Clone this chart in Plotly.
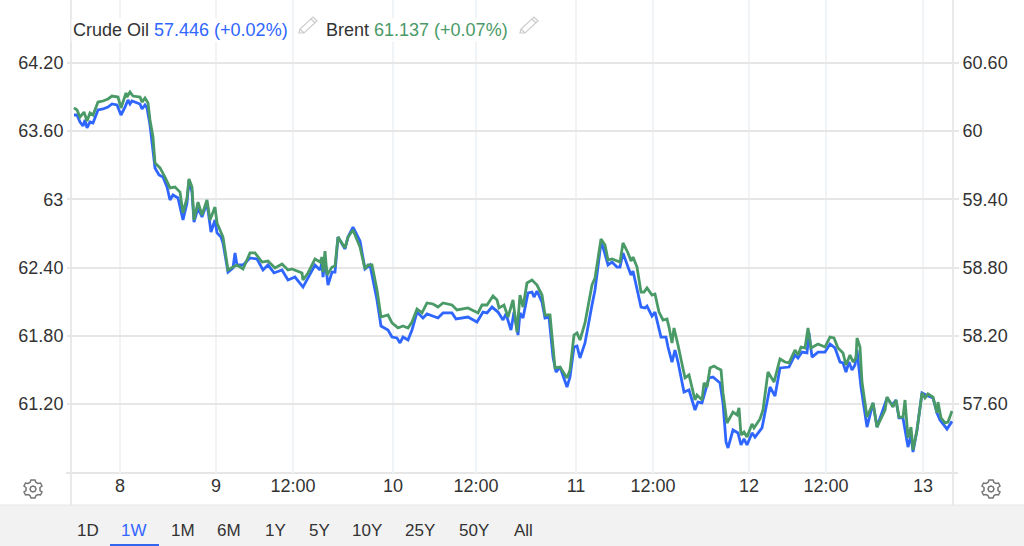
import plotly.graph_objects as go

# Position along the ordinal (gap-free) trading time axis
brent_bar = [3,6,9,13,16,19,22,27,32,37,41,47,50,55,56,59,62,69,71,74,77,79,82,84,89,94,99,104,109,112,116,118,121,123,127,131,136,139,144,146,152,157,162,166,172,179,184,191,197,204,211,217,221,231,232,237,244,249,251,252,254,256,261,264,267,274,277,282,289,294,297,301,306,310,317,321,327,332,337,341,346,351,356,362,367,372,381,386,397,407,411,416,422,426,428,433,437,442,446,449,452,456,461,466,471,474,479,482,484,489,496,499,503,506,509,514,517,521,524,530,534,537,541,546,549,552,557,560,562,566,570,573,576,581,584,588,592,596,598,601,603,607,614,618,624,626,631,633,636,639,643,646,650,652,656,662,666,668,670,673,676,681,683,689,692,697,703,709,714,718,724,727,730,734,737,740,747,754,759,763,767,772,775,779,782,785,786,789,791,796,798,802,806,811,814,816,820,822,825,828,832,834,837,840,842,846,851,854,857,862,866,867,870,874,877,881]
brent_price = [63.804,63.786,63.724,63.768,63.689,63.760,63.742,63.856,63.865,63.883,63.909,63.900,63.804,63.936,63.900,63.944,63.909,63.900,63.856,63.892,63.848,63.698,63.548,63.320,63.276,63.196,63.100,63.108,63.064,62.880,63.012,63.179,63.108,62.818,62.976,62.862,62.994,62.818,62.932,62.792,62.668,62.378,62.404,62.422,62.387,62.528,62.528,62.448,62.457,62.396,62.431,62.378,62.387,62.352,62.290,62.352,62.475,62.448,62.492,62.360,62.545,62.334,62.404,62.413,62.668,62.572,62.668,62.730,62.580,62.387,62.422,62.422,62.202,61.964,61.982,61.912,61.868,61.885,61.868,61.920,62.035,62.000,62.088,62.079,62.052,62.088,62.070,62.026,62.044,62.000,62.070,62.070,62.149,62.114,62.044,62.070,61.964,62.114,61.832,62.158,62.052,62.264,62.290,62.246,62.158,61.982,61.982,61.656,61.516,61.524,61.428,61.498,61.806,61.824,61.762,61.912,62.070,62.246,62.308,62.651,62.598,62.466,62.475,62.457,62.448,62.616,62.528,62.457,62.492,62.404,62.184,62.184,62.220,62.158,62.167,62.008,61.938,61.947,61.876,61.736,61.868,61.718,61.428,61.454,61.234,61.278,61.234,61.384,61.348,61.516,61.533,61.516,61.498,61.296,61.032,61.128,61.102,61.164,60.926,60.952,60.908,61.023,60.988,61.067,61.146,61.480,61.392,61.595,61.568,61.560,61.674,61.630,61.700,61.692,61.868,61.692,61.727,61.700,61.788,61.780,61.692,61.648,61.542,61.630,61.568,61.604,61.780,61.700,61.392,61.084,61.128,61.208,60.996,61.084,61.146,61.260,61.208,61.172,61.234,61.084,61.084,61.234,60.900,60.996,60.794,60.970,61.296,61.252,61.287,61.260,61.120,61.216,61.076,61.032,61.040,61.137]

crude_bar = [3,6,9,12,14,16,19,22,27,32,37,41,46,50,54,57,59,61,69,71,74,76,79,81,84,88,92,96,99,102,107,112,116,118,121,123,127,131,136,140,144,146,150,152,157,162,164,166,172,179,186,192,197,203,211,217,224,232,236,244,249,251,252,254,257,261,264,267,274,277,282,289,294,299,306,310,317,321,326,329,332,337,341,346,352,356,367,372,381,385,397,406,412,416,421,427,432,435,440,443,447,449,452,457,461,463,466,471,474,478,482,485,489,496,499,503,506,509,514,517,521,524,530,532,537,541,546,549,552,557,560,562,566,570,574,576,581,584,590,595,597,601,604,607,613,618,624,627,631,634,638,642,649,652,655,657,662,667,670,673,676,681,684,691,694,699,704,709,718,724,727,731,736,738,741,747,754,759,764,769,772,775,778,781,784,786,790,796,802,806,816,821,825,828,832,835,837,840,842,846,851,857,862,866,869,876,881]
crude_price = [60.142,60.142,60.080,60.045,60.098,60.028,60.080,60.072,60.186,60.195,60.212,60.239,60.230,60.142,60.212,60.274,60.239,60.265,60.239,60.195,60.230,60.204,60.054,59.904,59.676,59.614,59.596,59.508,59.394,59.438,59.412,59.218,59.368,59.570,59.464,59.200,59.324,59.244,59.368,59.112,59.218,59.104,59.068,59.016,58.760,58.796,58.928,58.822,58.822,58.884,58.875,58.778,58.822,58.752,58.778,58.690,58.716,58.628,58.690,58.822,58.778,58.848,58.716,58.866,58.646,58.760,58.760,59.068,58.963,59.068,59.156,59.033,58.787,58.822,58.514,58.285,58.250,58.188,58.180,58.136,58.188,58.162,58.250,58.408,58.356,58.391,58.356,58.400,58.400,58.347,58.364,58.320,58.408,58.400,58.452,58.408,58.338,58.391,58.250,58.408,58.206,58.400,58.356,58.576,58.584,58.540,58.593,58.496,58.356,58.364,58.012,57.880,57.924,57.748,57.836,58.100,58.109,58.004,58.136,58.294,58.470,58.602,59.016,58.980,58.822,58.848,58.804,58.804,58.928,58.804,58.734,58.769,58.602,58.452,58.444,58.461,58.373,58.408,58.188,58.188,58.100,57.968,58.074,57.968,57.704,57.722,57.546,57.616,57.608,57.696,57.828,57.836,57.784,57.608,57.264,57.212,57.370,57.344,57.238,57.291,57.238,57.344,57.308,57.388,57.520,57.748,57.669,57.916,57.924,58.030,58.004,58.056,58.048,58.224,58.012,58.056,58.056,58.127,58.092,57.968,57.960,57.880,57.968,57.898,57.942,58.074,57.748,57.396,57.608,57.396,57.652,57.590,57.634,57.476,57.476,57.326,57.220,57.326,57.176,57.370,57.696,57.669,57.652,57.520,57.458,57.379,57.446]

assert len(brent_bar) == len(brent_price), (len(brent_bar), len(brent_price))
assert len(crude_bar) == len(crude_price), (len(crude_bar), len(crude_price))

x_tick_bars = [49,145,222,322,405,505,582,678,755,852]
x_tick_labels = ["8","9","12:00","10","12:00","11","12:00","12","12:00","13"]
brent_ticks = [64.2,63.6,63.0,62.4,61.8,61.2]
brent_tick_labels = ["64.20","63.60","63","62.40","61.80","61.20"]
crude_ticks = [60.6,60.0,59.4,58.8,58.2,57.6]
crude_tick_labels = ["60.60","60","59.40","58.80","58.20","57.60"]
ranges = ["1D","1W","1M","6M","1Y","5Y","10Y","25Y","50Y","All"]
range_x = [88,134,183,229,275,319,367,420,474,523]

BLUE = "#2f66ff"
GREEN = "#4a9a68"
FONT = "Liberation Sans"
INK = "#333333"
W, H, L, R, B = 1024, 546, 71, 953, 473


def px(x):
    return (x - L) / (R - L)


def py(y):
    return (B - y) / B


fig = go.Figure()
fig.add_trace(go.Scatter(x=crude_bar, y=crude_price, mode="lines", name="Crude Oil",
                         line=dict(color=BLUE, width=2.8), yaxis="y"))
fig.add_trace(go.Scatter(x=brent_bar, y=brent_price, mode="lines", name="Brent",
                         line=dict(color=GREEN, width=2.8), yaxis="y2"))

shapes = [
    dict(type="rect", xref="paper", yref="paper", x0=px(0), x1=px(W), y0=py(505), y1=py(H),
         fillcolor="#f2f2f2", line_width=0, layer="below"),
    dict(type="line", xref="paper", yref="paper", x0=px(0), x1=px(W), y0=py(505), y1=py(505),
         line=dict(color="#e6e6e6", width=1), layer="below"),
    dict(type="line", xref="paper", yref="paper", x0=px(71), x1=px(71), y0=py(0), y1=py(505),
         line=dict(color="#e9e9e9", width=2), layer="below"),
    dict(type="line", xref="paper", yref="paper", x0=px(953), x1=px(953), y0=py(0), y1=py(505),
         line=dict(color="#e9e9e9", width=2), layer="below"),
    dict(type="line", xref="paper", yref="paper", x0=px(66), x1=px(958), y0=py(473), y1=py(473),
         line=dict(color="#e6e6e6", width=2), layer="below"),
    dict(type="line", xref="paper", yref="paper", x0=px(110), x1=px(159), y0=py(545), y1=py(545),
         line=dict(color="#3366ee", width=2)),
]

# outline icons, drawn in pixels around an anchor
GEAR = ("M -2,9 L 2,9 L 3,6.5 L 5,5.5 L 7.5,6 L 9,3 L 7,1.5 L 7,-1.5 L 9,-3 L 7.5,-6 L 5,-5.5 "
        "L 3,-6.5 L 2,-9 L -2,-9 L -3,-6.5 L -5,-5.5 L -7.5,-6 L -9,-3 L -7,-1.5 L -7,1.5 "
        "L -9,3 L -7.5,6 L -5,5.5 L -3,6.5 Z "
        "M -3,0 L -2.1,2.1 L 0,3 L 2.1,2.1 L 3,0 L 2.1,-2.1 L 0,-3 L -2.1,-2.1 Z")
PENCIL = "M -9,-7 L -8,-3 L 5,9 L 9,5 L -4,-7 Z M -8,-3 L -4,-7 M 3,7 L 7,3"
for cx in (33, 991):
    shapes.append(dict(type="path", xref="paper", yref="paper", xsizemode="pixel", ysizemode="pixel",
                       xanchor=px(cx), yanchor=py(489), path=GEAR,
                       line=dict(color="#757575", width=1.5), fillcolor="rgba(0,0,0,0)"))
for cx in (308, 529):
    shapes.append(dict(type="path", xref="paper", yref="paper", xsizemode="pixel", ysizemode="pixel",
                       xanchor=px(cx), yanchor=py(26), path=PENCIL,
                       line=dict(color="#cccccc", width=1.2), fillcolor="rgba(0,0,0,0)"))

annotations = [
    dict(x=px(71), y=py(30), xref="paper", yref="paper", xanchor="left", yanchor="middle",
         showarrow=False, bgcolor="white", font=dict(family=FONT, size=18, color=INK),
         text=f"Crude Oil <span style='color:{BLUE}'>57.446 (+0.02%)</span>"),
    dict(x=px(324), y=py(30), xref="paper", yref="paper", xanchor="left", yanchor="middle",
         showarrow=False, bgcolor="white", font=dict(family=FONT, size=18, color=INK),
         text=f"Brent <span style='color:{GREEN}'>61.137 (+0.07%)</span>"),
]
for label, x in zip(ranges, range_x):
    annotations.append(dict(x=px(x), y=py(530), xref="paper", yref="paper", showarrow=False,
                            xanchor="center", yanchor="middle", text=label,
                            font=dict(family=FONT, size=17, color="#3366ff" if label == "1W" else INK)))

fig.update_layout(
    width=W, height=H, autosize=False, showlegend=False,
    margin=dict(l=L, r=W - R, t=0, b=H - B, pad=0),
    paper_bgcolor="white", plot_bgcolor="white",
    shapes=shapes, annotations=annotations,
    font=dict(family=FONT, size=18, color=INK),
    xaxis=dict(range=[0, R - L], tickmode="array", tickvals=x_tick_bars, ticktext=x_tick_labels,
               showgrid=True, gridcolor="#f0f4f7", gridwidth=2, zeroline=False, showline=False,
               ticks="", tickfont=dict(size=18)),
    yaxis=dict(side="right", range=[61.154 - 0.0088 * B, 61.154], tickmode="array",
               tickvals=crude_ticks, ticktext=crude_tick_labels, showgrid=True,
               gridcolor="#e6e6e6", gridwidth=2, zeroline=False, showline=False,
               ticks="outside", ticklen=5, tickcolor="#e6e6e6", tickwidth=2),
    yaxis2=dict(side="left", overlaying="y", range=[64.754 - 0.0088 * B, 64.754], tickmode="array",
                tickvals=brent_ticks, ticktext=brent_tick_labels, showgrid=False, zeroline=False,
                showline=False, ticks="outside", ticklen=3, tickcolor="#e6e6e6", tickwidth=2),
)

fig.write_html("out.html", config=dict(displayModeBar=False),
               default_width="1024px", default_height="546px",
               post_script="document.body.style.margin='0';document.documentElement.style.overflow='hidden';")
